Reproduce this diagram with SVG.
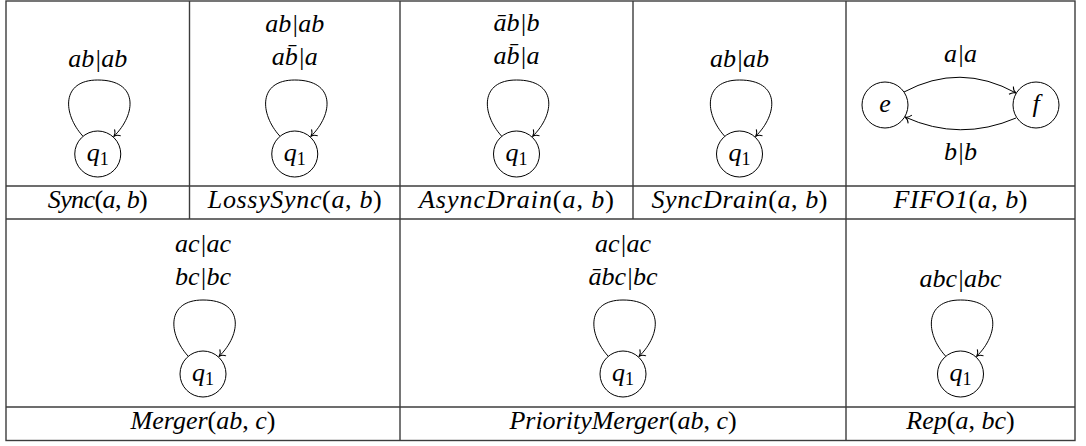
<svg xmlns="http://www.w3.org/2000/svg" width="1086" height="446" viewBox="0 0 1086 446">
<style>
.t{font-family:"Liberation Serif","Times New Roman",serif;font-style:italic;font-size:26px;text-anchor:middle;fill:#000}
.u{font-style:normal}
.sub{font-style:normal;font-size:18px}
.grid{stroke:#3c3c3c;stroke-width:1.4;fill:none}
.st{fill:#fff;stroke:#000;stroke-width:1}
.edge{fill:none;stroke:#000;stroke-width:1;marker-end:url(#arr)}
</style>
<defs>
<marker id="arr" viewBox="-8 -6 10 12" refX="0" refY="0" markerWidth="10" markerHeight="12" orient="auto" markerUnits="userSpaceOnUse">
<path d="M-5.5,-4.5 C-4,-1.5 -1.5,-0.3 0,0 C-1.5,0.3 -4,1.5 -5.5,4.5" fill="none" stroke="#000" stroke-width="1"/>
</marker>
</defs>
<rect width="1086" height="446" fill="#fff"/>
<g id="grid">
<rect class="grid" x="6" y="1" width="1069" height="439.5"/>
<line class="grid" x1="6" y1="186" x2="1075" y2="186"/>
<line class="grid" x1="6" y1="219" x2="1075" y2="219"/>
<line class="grid" x1="6" y1="407" x2="1075" y2="407"/>
<line class="grid" x1="189.5" y1="1" x2="189.5" y2="219"/>
<line class="grid" x1="400" y1="1" x2="400" y2="440.5"/>
<line class="grid" x1="633" y1="1" x2="633" y2="219"/>
<line class="grid" x1="846" y1="1" x2="846" y2="440.5"/>
</g>
<g id="connectors">
<path class="edge" d="M82.75,136 C62.75,114 60.75,80 97.75,80 C138.75,80 136.75,114 113.75,136.5"/>
<path class="edge" d="M279.75,136 C259.75,114 257.75,80 294.75,80 C335.75,80 333.75,114 310.75,136.5"/>
<path class="edge" d="M501.5,136 C481.5,114 479.5,80 516.5,80 C557.5,80 555.5,114 532.5,136.5"/>
<path class="edge" d="M724.5,136 C704.5,114 702.5,80 739.5,80 C780.5,80 778.5,114 755.5,136.5"/>
<path class="edge" d="M904,92 Q960,62 1016,93"/>
<path class="edge" d="M1016,118 Q960,142 905,117"/>
<path class="edge" d="M188,356 C168,334 166,300 203,300 C244,300 242,334 219,356.5"/>
<path class="edge" d="M608,356 C588,334 586,300 623,300 C664,300 662,334 639,356.5"/>
<path class="edge" d="M945.5,356 C925.5,334 923.5,300 960.5,300 C1001.5,300 999.5,334 976.5,356.5"/>
</g>
<g id="sync">
<text class="t" x="97.75" y="67">ab|ab</text>
<circle class="st" cx="97.75" cy="154" r="23"/>
<text class="t" x="97.75" y="161">q<tspan class="sub" dy="4">1</tspan></text>
<text class="t" x="97.75" y="208" textLength="100" lengthAdjust="spacing">Sync<tspan class="u">(</tspan>a<tspan class="u">, </tspan>b<tspan class="u">)</tspan></text>
</g>
<g id="lossysync">
<text class="t" x="294.75" y="32">ab|ab</text>
<text class="t" x="294.75" y="65">ab̄|a</text>
<circle class="st" cx="294.75" cy="154" r="23"/>
<text class="t" x="294.75" y="161">q<tspan class="sub" dy="4">1</tspan></text>
<text class="t" x="294.75" y="208" textLength="174" lengthAdjust="spacing">LossySync<tspan class="u">(</tspan>a<tspan class="u">, </tspan>b<tspan class="u">)</tspan></text>
</g>
<g id="asyncdrain">
<text class="t" x="516.5" y="31">āb|b</text>
<text class="t" x="516.5" y="64">ab̄|a</text>
<circle class="st" cx="516.5" cy="154" r="23"/>
<text class="t" x="516.5" y="161">q<tspan class="sub" dy="4">1</tspan></text>
<text class="t" x="516.5" y="208" textLength="195" lengthAdjust="spacing">AsyncDrain<tspan class="u">(</tspan>a<tspan class="u">, </tspan>b<tspan class="u">)</tspan></text>
</g>
<g id="syncdrain">
<text class="t" x="739.5" y="67">ab|ab</text>
<circle class="st" cx="739.5" cy="154" r="23"/>
<text class="t" x="739.5" y="161">q<tspan class="sub" dy="4">1</tspan></text>
<text class="t" x="739.5" y="208" textLength="176" lengthAdjust="spacing">SyncDrain<tspan class="u">(</tspan>a<tspan class="u">, </tspan>b<tspan class="u">)</tspan></text>
</g>
<g id="fifo1">
<text class="t" x="960.5" y="62">a|a</text>
<text class="t" x="960.5" y="160">b|b</text>
<g id="state-e">
<circle class="st" cx="885" cy="105" r="23"/>
<text class="t" x="885" y="112">e</text>
</g>
<g id="state-f">
<circle class="st" cx="1036" cy="105" r="23"/>
<text class="t" x="1036" y="112">f</text>
</g>
<text class="t" x="960.5" y="208" textLength="134" lengthAdjust="spacing">FIFO1<tspan class="u">(</tspan>a<tspan class="u">, </tspan>b<tspan class="u">)</tspan></text>
</g>
<g id="merger">
<text class="t" x="203" y="252">ac|ac</text>
<text class="t" x="203" y="285">bc|bc</text>
<circle class="st" cx="203" cy="374" r="23"/>
<text class="t" x="203" y="381">q<tspan class="sub" dy="4">1</tspan></text>
<text class="t" x="203" y="429">Merger<tspan class="u">(</tspan>ab<tspan class="u">, </tspan>c<tspan class="u">)</tspan></text>
</g>
<g id="prioritymerger">
<text class="t" x="623" y="252">ac|ac</text>
<text class="t" x="623" y="285">ābc|bc</text>
<circle class="st" cx="623" cy="374" r="23"/>
<text class="t" x="623" y="381">q<tspan class="sub" dy="4">1</tspan></text>
<text class="t" x="623" y="429">PriorityMerger<tspan class="u">(</tspan>ab<tspan class="u">, </tspan>c<tspan class="u">)</tspan></text>
</g>
<g id="rep">
<text class="t" x="960.5" y="287">abc|abc</text>
<circle class="st" cx="960.5" cy="374" r="23"/>
<text class="t" x="960.5" y="381">q<tspan class="sub" dy="4">1</tspan></text>
<text class="t" x="960.5" y="429">Rep<tspan class="u">(</tspan>a<tspan class="u">, </tspan>bc<tspan class="u">)</tspan></text>
</g>
</svg>
